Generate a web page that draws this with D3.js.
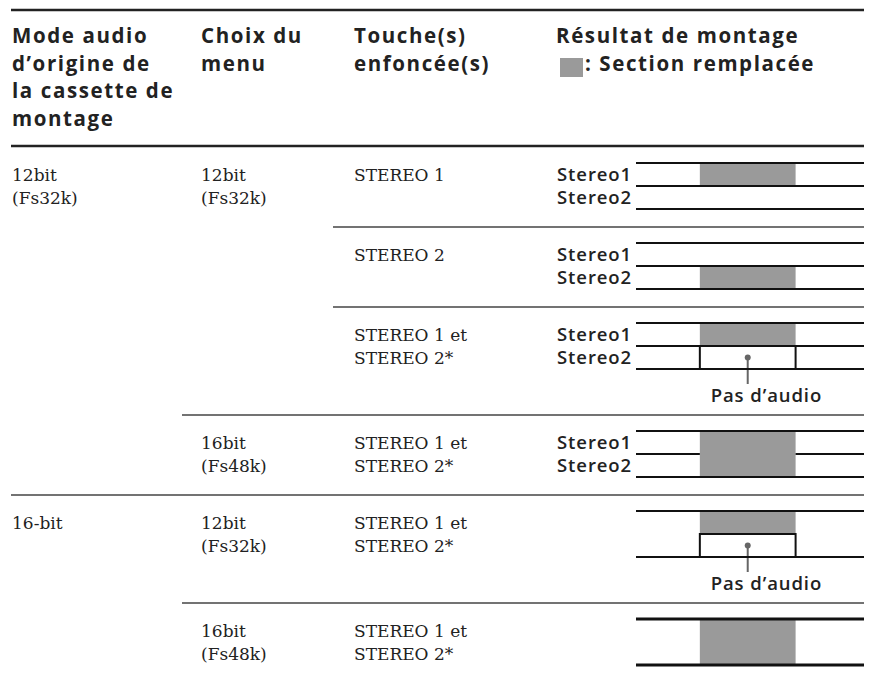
<!DOCTYPE html>
<html>
<head>
<meta charset="utf-8">
<script src="https://cdn.jsdelivr.net/npm/d3@7"></script>
<style>
  body { margin: 0; background: #fff; }
  .head { font-family: "Open Sans", sans-serif; font-weight: 700; font-size: 20.5px; letter-spacing: 1.6px; fill: #222; }
  .cell { font-family: "DejaVu Serif", serif; font-size: 17px; fill: #222; }
  .track { font-family: "Open Sans", sans-serif; font-weight: 600; font-size: 18.5px; letter-spacing: 0.9px; fill: #222; }
</style>
</head>
<body>
<div id="chart"></div>
<script>
// en-tetes
var headMode   = ["Mode audio", "d’origine de", "la cassette de", "montage"];
var headMenu   = ["Choix du", "menu"];
var headKeys   = ["Touche(s)", "enfoncée(s)"];
var headResult = "Résultat de montage";
var legendLabel = ": Section remplacée";

// lignes du tableau
var rowMode = [["12bit", "(Fs32k)"], [], [], [], ["16-bit"], []];
var rowMenu = [["12bit", "(Fs32k)"], [], [], ["16bit", "(Fs48k)"], ["12bit", "(Fs32k)"], ["16bit", "(Fs48k)"]];
var rowKeys = [["STEREO 1"], ["STEREO 2"], ["STEREO 1 et", "STEREO 2*"],
               ["STEREO 1 et", "STEREO 2*"], ["STEREO 1 et", "STEREO 2*"], ["STEREO 1 et", "STEREO 2*"]];

// resultat de montage
var trackNames   = ["Stereo1", "Stereo2"];
var rowReplaced  = [["Stereo1"], ["Stereo2"], ["Stereo1"], ["Stereo1", "Stereo2"], ["Stereo1"], ["Stereo1", "Stereo2"]];
var rowNoAudio   = [[], [], ["Stereo2"], [], ["Stereo2"], []];
var rowShowNames = [true, true, true, true, false, false];
var rowSplit     = [true, true, true, true, false, false];   // deux pistes separees
var rowRuleFrom  = [0, 2, 2, 1, 0, 1];                       // colonne ou commence le filet
var tapeLength = 10, editIn = 2.8, editOut = 7.0;
var noAudioLabel = "Pas d’audio";

var width = 871, height = 678;
var colX = [12, 201, 354];
var ruleX = [11, 182, 333];
var right = 864;
var lineH = 23;

var svg = d3.select("#chart").append("svg")
    .attr("width", width)
    .attr("height", height);

var x = d3.scaleLinear().domain([0, tapeLength]).range([636, right]);
var lane = d3.scaleLinear().domain([0, 2]).range([16, 16 + 2 * lineH]);

// filets du haut
svg.append("line").attr("x1", 11).attr("x2", right).attr("y1", 10).attr("y2", 10)
    .attr("stroke", "#222").attr("stroke-width", 2.5);
svg.append("line").attr("x1", 11).attr("x2", right).attr("y1", 146).attr("y2", 146)
    .attr("stroke", "#222").attr("stroke-width", 2.5);

function lines(g, arr, x0, y0, dy, cls) {
    g.selectAll(null).data(arr).enter().append("text")
        .attr("class", cls)
        .attr("x", x0)
        .attr("y", (d, i) => y0 + i * dy)
        .text(d => d);
}

lines(svg, headMode, colX[0], 43, 27.5, "head");
lines(svg, headMenu, colX[1], 43, 27.5, "head");
lines(svg, headKeys, colX[2], 43, 27.5, "head");
lines(svg, [headResult], 556, 43, 27.5, "head");
svg.append("rect").attr("x", 560).attr("y", 58).attr("width", 23).attr("height", 19).attr("fill", "#9a9a9a");
lines(svg, [legendLabel], 585, 71, 27.5, "head");

// hauteur des lignes
var rowH = rowNoAudio.map(d => d.length ? 108 : 80);
var rowTop = [147].concat(Array.from(d3.cumsum(rowH)).map(d => 147 + d)).slice(0, rowH.length);

var rows = svg.selectAll(".row").data(d3.range(rowH.length)).enter().append("g")
    .attr("class", "row")
    .attr("transform", i => "translate(0," + rowTop[i] + ")");

rows.each(function(i) {
    var g = d3.select(this);
    if (i > 0) {
        g.append("line").attr("x1", ruleX[rowRuleFrom[i]]).attr("x2", right)
            .attr("y1", 0).attr("y2", 0)
            .attr("stroke", "#444").attr("stroke-width", 1.5);
    }
    var ty = lane(0) + lineH / 2 + 6;
    lines(g, rowMode[i], colX[0], ty, lineH, "cell");
    lines(g, rowMenu[i], colX[1], ty, lineH, "cell");
    lines(g, rowKeys[i], colX[2], ty, lineH, "cell");

    var rep = rowReplaced[i].map(n => trackNames.indexOf(n));
    var mute = rowNoAudio[i].map(n => trackNames.indexOf(n));
    var both = rep.length === 2;

    // sections remplacees
    g.selectAll(null).data(both ? [0] : rep).enter().append("rect")
        .attr("x", x(editIn)).attr("width", x(editOut) - x(editIn))
        .attr("y", k => lane(k))
        .attr("height", both ? lane(2) - lane(0) : lineH)
        .attr("fill", "#9a9a9a");

    // piste du milieu
    if (rowSplit[i]) {
        var segs = both ? [[0, editIn], [editOut, tapeLength]] : [[0, tapeLength]];
        g.selectAll(null).data(segs).enter().append("line")
            .attr("x1", d => x(d[0])).attr("x2", d => x(d[1]))
            .attr("y1", lane(1)).attr("y2", lane(1))
            .attr("stroke", "#111").attr("stroke-width", 2);
    }

    // pas d'audio
    mute.forEach(function(k) {
        g.append("rect")
            .attr("x", x(editIn)).attr("width", x(editOut) - x(editIn))
            .attr("y", lane(k)).attr("height", lineH)
            .attr("fill", "#fff").attr("stroke", "#111").attr("stroke-width", 2);
        var px = x((editIn + editOut) / 2);
        g.append("line").attr("x1", px).attr("x2", px)
            .attr("y1", lane(k) + lineH / 2).attr("y2", lane(2) + 15)
            .attr("stroke", "#666").attr("stroke-width", 2);
        g.append("circle").attr("cx", px).attr("cy", lane(k) + lineH / 2).attr("r", 3).attr("fill", "#666");
        g.append("text").attr("class", "track")
            .attr("x", px - 37).attr("y", lane(2) + 33)
            .text(noAudioLabel);
    });

    // bords de la bande
    var sw = rowSplit[i] ? 2 : (both ? 3 : 2);
    g.selectAll(null).data([0, 2]).enter().append("line")
        .attr("x1", x(0)).attr("x2", x(tapeLength))
        .attr("y1", k => lane(k)).attr("y2", k => lane(k))
        .attr("stroke", "#111").attr("stroke-width", sw);

    if (rowShowNames[i]) {
        g.selectAll(null).data(trackNames).enter().append("text")
            .attr("class", "track")
            .attr("x", 632)
            .attr("y", (d, k) => lane(k) + lineH / 2 + 6)
            .attr("text-anchor", "end")
            .text(d => d);
    }
});
</script>
</body>
</html>
